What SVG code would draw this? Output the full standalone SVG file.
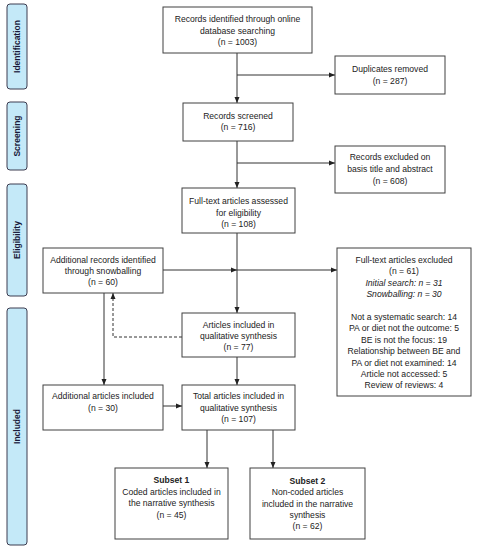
<svg xmlns="http://www.w3.org/2000/svg" width="477" height="550" viewBox="0 0 477 550">
<style>
.box{fill:#fff;stroke:#404040;stroke-width:1}
.phase{fill:#c4e9f8;stroke:#3c3c50;stroke-width:1}
.t{font-family:"Liberation Sans",Arial,sans-serif;font-size:8.6px;fill:#222;text-anchor:middle}
.pt{font-family:"Liberation Sans",Arial,sans-serif;font-size:8.5px;font-weight:bold;fill:#1a1a3a;text-anchor:middle}
.b{font-weight:bold}
.i{font-style:italic}
.c{fill:none;stroke:#333;stroke-width:1}
.d{stroke-dasharray:3,2}
</style>
<defs>
<marker id="ah" markerWidth="6" markerHeight="6" refX="6" refY="3" orient="auto" markerUnits="userSpaceOnUse">
<path d="M0,0.5 L6,3 L0,5.5 z" fill="#222"/>
</marker>
</defs>
<g id="phases">
<g id="phase-identification"><rect class="phase" x="7" y="4" width="20" height="85" rx="3"/><text class="pt" transform="translate(20,46.5) rotate(-90)">Identification</text></g>
<g id="phase-screening"><rect class="phase" x="7" y="102" width="20" height="68" rx="3"/><text class="pt" transform="translate(20,136) rotate(-90)">Screening</text></g>
<g id="phase-eligibility"><rect class="phase" x="7" y="184" width="20" height="112" rx="3"/><text class="pt" transform="translate(20,240) rotate(-90)">Eligibility</text></g>
<g id="phase-included"><rect class="phase" x="7" y="308" width="20" height="237" rx="3"/><text class="pt" transform="translate(20,426.5) rotate(-90)">Included</text></g>
</g>
<g id="connectors">
<line class="c" x1="237" y1="53" x2="237" y2="103" marker-end="url(#ah)"/>
<line class="c" x1="237" y1="75" x2="335" y2="75" marker-end="url(#ah)"/>
<line class="c" x1="237" y1="141" x2="237" y2="188" marker-end="url(#ah)"/>
<line class="c" x1="237" y1="163" x2="335" y2="163" marker-end="url(#ah)"/>
<line class="c" x1="237" y1="233" x2="237" y2="313" marker-end="url(#ah)"/>
<line class="c" x1="163" y1="270" x2="237" y2="270" marker-end="url(#ah)"/>
<line class="c" x1="237" y1="270" x2="337" y2="270" marker-end="url(#ah)"/>
<polyline class="c d" points="182,337 113,337 113,293" marker-end="url(#ah)"/>
<line class="c" x1="104" y1="293" x2="104" y2="385" marker-end="url(#ah)"/>
<line class="c" x1="237" y1="357" x2="237" y2="385" marker-end="url(#ah)"/>
<line class="c" x1="163" y1="406" x2="182" y2="406" marker-end="url(#ah)"/>
<line class="c" x1="207" y1="430" x2="207" y2="468" marker-end="url(#ah)"/>
<line class="c" x1="273" y1="430" x2="273" y2="468" marker-end="url(#ah)"/>
</g>
<g id="records-identified"><rect class="box" x="163" y="7" width="149" height="46"/>
<text class="t" x="237.5" y="22">Records identified through online</text>
<text class="t" x="237.5" y="33.7">database searching</text>
<text class="t" x="237.5" y="45.4">(n = 1003)</text></g>
<g id="duplicates-removed"><rect class="box" x="335" y="56" width="110" height="38"/>
<text class="t" x="390" y="72">Duplicates removed</text>
<text class="t" x="390" y="83.5">(n = 287)</text></g>
<g id="records-screened"><rect class="box" x="183" y="103" width="110" height="38"/>
<text class="t" x="238" y="118.5">Records screened</text>
<text class="t" x="238" y="130">(n = 716)</text></g>
<g id="records-excluded"><rect class="box" x="335" y="146" width="110" height="47"/>
<text class="t" x="390" y="160">Records excluded on</text>
<text class="t" x="390" y="172">basis title and abstract</text>
<text class="t" x="390" y="184">(n = 608)</text></g>
<g id="fulltext-assessed"><rect class="box" x="182" y="188" width="113" height="45"/>
<text class="t" x="238.5" y="204">Full-text articles assessed</text>
<text class="t" x="238.5" y="215.5">for eligibility</text>
<text class="t" x="238.5" y="227">(n = 108)</text></g>
<g id="snowballing"><rect class="box" x="43" y="248" width="120" height="45"/>
<text class="t" x="103" y="263">Additional records identified</text>
<text class="t" x="103" y="274">through snowballing</text>
<text class="t" x="103" y="285">(n = 60)</text></g>
<g id="fulltext-excluded"><rect class="box" x="337" y="248" width="134" height="148"/>
<text class="t" x="404" y="263">Full-text articles excluded</text>
<text class="t" x="404" y="274.4">(n = 61)</text>
<text class="t i" x="404" y="285.8">Initial search: n = 31</text>
<text class="t i" x="404" y="297.2">Snowballing: n = 30</text>
<text class="t" x="404" y="320">Not a systematic search: 14</text>
<text class="t" x="404" y="331.4">PA or diet not the outcome: 5</text>
<text class="t" x="404" y="342.8">BE is not the focus: 19</text>
<text class="t" x="404" y="354.2">Relationship between BE and</text>
<text class="t" x="404" y="365.6">PA or diet not examined: 14</text>
<text class="t" x="404" y="377">Article not accessed: 5</text>
<text class="t" x="404" y="388.4">Review of reviews: 4</text></g>
<g id="articles-included"><rect class="box" x="182" y="313" width="113" height="44"/>
<text class="t" x="238.5" y="328">Articles included in</text>
<text class="t" x="238.5" y="339">qualitative synthesis</text>
<text class="t" x="238.5" y="350">(n = 77)</text></g>
<g id="additional-articles"><rect class="box" x="43" y="385" width="120" height="45"/>
<text class="t" x="103" y="399">Additional articles included</text>
<text class="t" x="103" y="410.5">(n = 30)</text></g>
<g id="total-articles"><rect class="box" x="182" y="385" width="113" height="45"/>
<text class="t" x="238.5" y="399">Total articles included in</text>
<text class="t" x="238.5" y="410.5">qualitative synthesis</text>
<text class="t" x="238.5" y="422">(n = 107)</text></g>
<g id="subset-1"><rect class="box" x="115" y="468" width="113" height="71"/>
<text class="t b" x="171.5" y="483">Subset 1</text>
<text class="t" x="171.5" y="494.5">Coded articles included in</text>
<text class="t" x="171.5" y="506">the narrative synthesis</text>
<text class="t" x="171.5" y="517.5">(n = 45)</text></g>
<g id="subset-2"><rect class="box" x="250" y="468" width="115" height="71"/>
<text class="t b" x="307.5" y="484">Subset 2</text>
<text class="t" x="307.5" y="495.3">Non-coded articles</text>
<text class="t" x="307.5" y="506.6">included in the narrative</text>
<text class="t" x="307.5" y="517.9">synthesis</text>
<text class="t" x="307.5" y="529.2">(n = 62)</text></g>
</svg>
